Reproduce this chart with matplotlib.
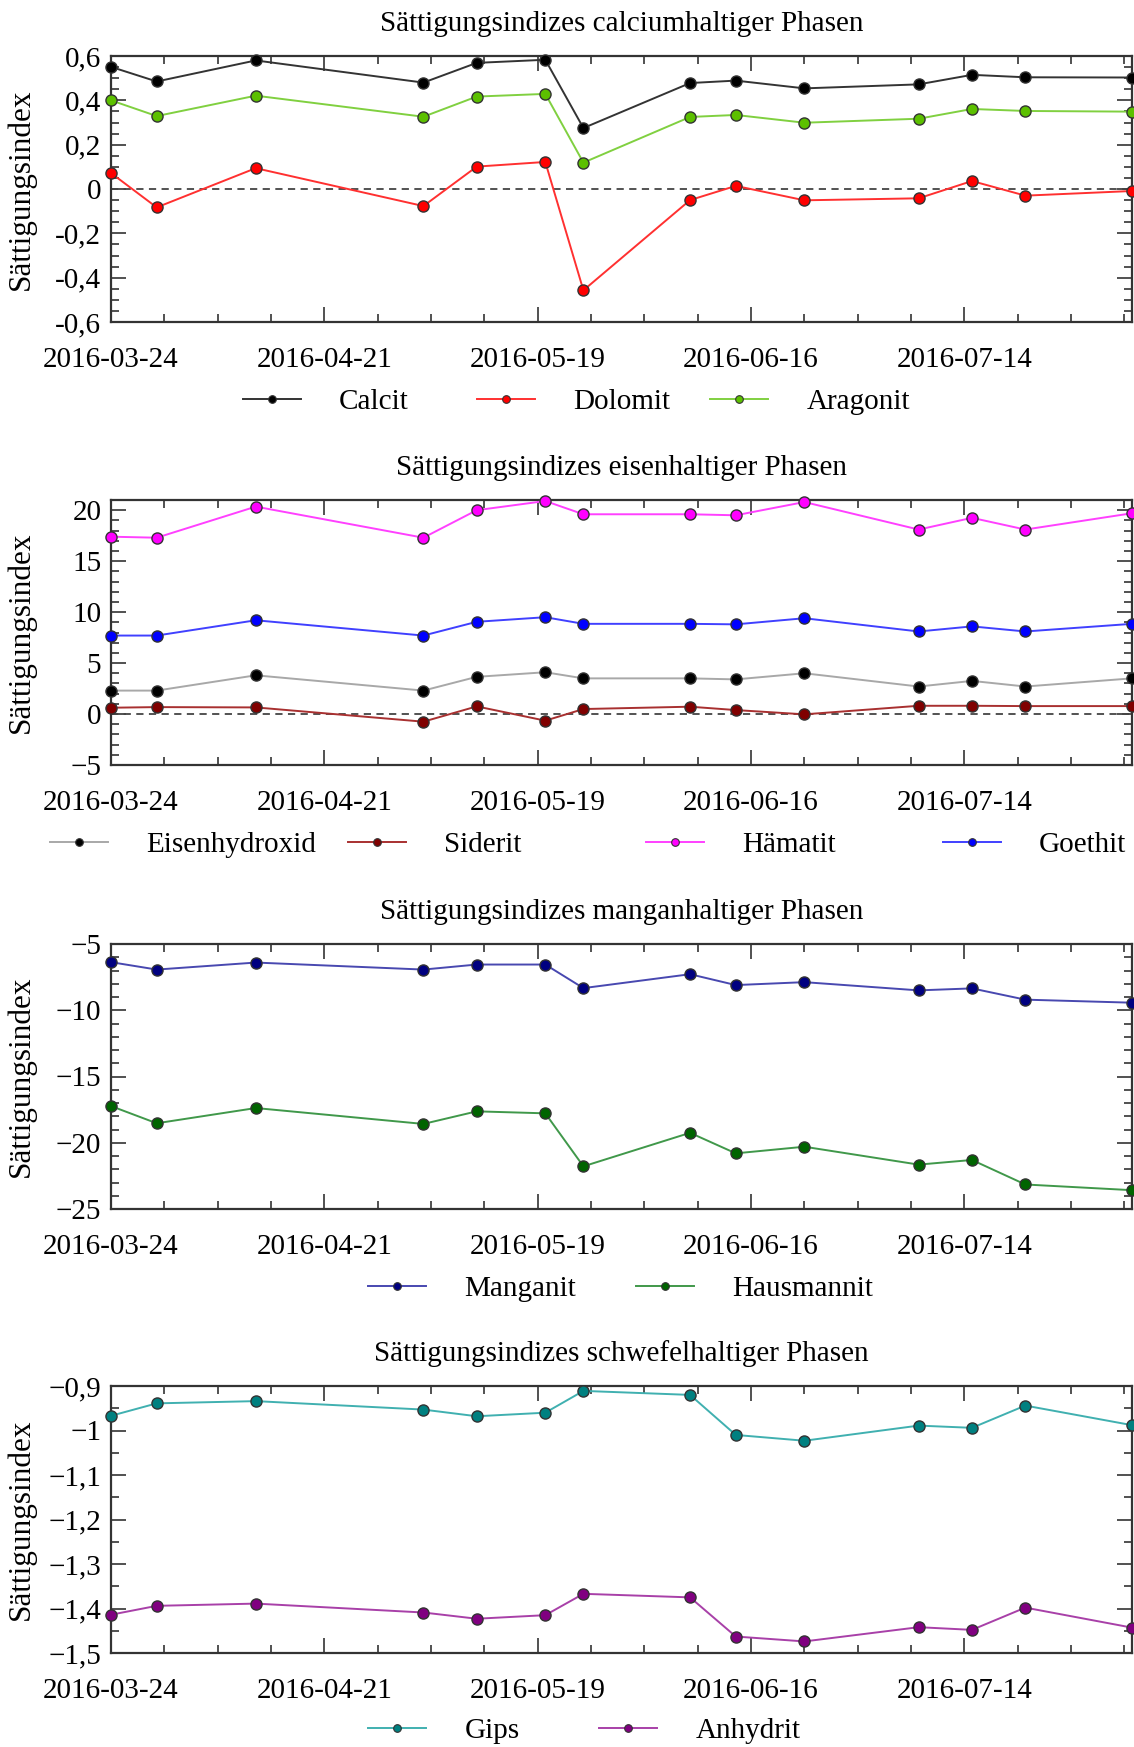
import numpy as np
import matplotlib
matplotlib.use('Agg')
import matplotlib.pyplot as plt
import matplotlib.dates as mdates
from matplotlib.ticker import MultipleLocator, FuncFormatter
from matplotlib.lines import Line2D

plt.rcParams['font.family'] = ['Liberation Serif', 'DejaVu Serif']
plt.rcParams['axes.unicode_minus'] = True

# sampling dates
dates = np.array(['2016-03-24', '2016-03-30', '2016-04-12', '2016-05-04', '2016-05-11',
                  '2016-05-20', '2016-05-25', '2016-06-08', '2016-06-14', '2016-06-23',
                  '2016-07-08', '2016-07-15', '2016-07-22', '2016-08-05'], dtype='datetime64[D]')
tick_dates = np.array(['2016-03-24', '2016-04-21', '2016-05-19', '2016-06-16', '2016-07-14'],
                      dtype='datetime64[D]')

# calcium phases
calcit   = [0.551, 0.485, 0.580, 0.480, 0.569, 0.583, 0.275, 0.478, 0.489, 0.454, 0.472, 0.515, 0.504, 0.503]
dolomit  = [0.072, -0.083, 0.094, -0.077, 0.101, 0.122, -0.457, -0.050, 0.014, -0.051, -0.042, 0.036, -0.030, -0.009]
aragonit = [0.400, 0.329, 0.421, 0.326, 0.417, 0.429, 0.119, 0.325, 0.334, 0.299, 0.317, 0.361, 0.352, 0.349]

# iron phases
eisenhydroxid = [2.3, 2.3, 3.8, 2.3, 3.65, 4.1, 3.5, 3.5, 3.4, 4.0, 2.7, 3.25, 2.7, 3.5]
siderit       = [0.62, 0.68, 0.65, -0.75, 0.75, -0.65, 0.49, 0.72, 0.39, -0.03, 0.81, 0.81, 0.78, 0.78]
haematit      = [17.4, 17.3, 20.35, 17.3, 20.0, 20.9, 19.6, 19.6, 19.5, 20.8, 18.1, 19.25, 18.1, 19.7]
goethit       = [7.7, 7.7, 9.2, 7.7, 9.05, 9.5, 8.85, 8.85, 8.8, 9.4, 8.1, 8.6, 8.1, 8.85]

# manganese phases
manganit   = [-6.37, -6.93, -6.4, -6.93, -6.55, -6.55, -8.33, -7.28, -8.1, -7.88, -8.5, -8.35, -9.2, -9.43]
hausmannit = [-17.23, -18.53, -17.38, -18.58, -17.63, -17.78, -21.78, -19.25, -20.8, -20.3, -21.65, -21.3, -23.15, -23.58]

# sulphur phases
gips     = [-0.967, -0.939, -0.934, -0.953, -0.968, -0.960, -0.911, -0.920, -1.010, -1.023, -0.989, -0.994, -0.944, -0.988]
anhydrit = [-1.414, -1.394, -1.389, -1.409, -1.423, -1.415, -1.367, -1.375, -1.463, -1.474, -1.442, -1.448, -1.398, -1.443]

W, H = 1134, 1747
fig = plt.figure(figsize=(W / 100, H / 100), dpi=100)
FS = 21
EDGE = '#333333'


def fmt_comma(minus):
    def f(v, pos):
        s = '{:g}'.format(round(v, 6)).replace('.', ',')
        if s.startswith('-'):
            s = minus + s[1:]
        return s
    return FuncFormatter(f)


def make_axes(top, bottom):
    return fig.add_axes([111 / W, 1 - bottom / H, (1132 - 111) / W, (bottom - top) / H])


def style(ax, title, ylim, major, minor, minus):
    ax.set_xlim(dates[0], dates[-1])
    ax.set_ylim(*ylim)
    ax.set_xticks(tick_dates)
    ax.set_xticks(np.arange(dates[0], dates[-1] + 1, 7), minor=True)
    ax.xaxis.set_major_formatter(mdates.DateFormatter('%Y-%m-%d'))
    ax.yaxis.set_major_locator(MultipleLocator(major))
    ax.yaxis.set_minor_locator(MultipleLocator(minor))
    ax.yaxis.set_major_formatter(fmt_comma(minus))
    ax.tick_params(which='both', direction='in', top=True, right=True,
                   color=EDGE, width=1.2, labelsize=FS)
    ax.tick_params(which='major', length=11)
    ax.tick_params(which='minor', length=5.5)
    ax.tick_params(axis='x', which='major', pad=18)
    ax.tick_params(axis='y', which='major', pad=7)
    for sp in ax.spines.values():
        sp.set_color(EDGE)
        sp.set_linewidth(1.6)
    ax.set_title(title, fontsize=FS, pad=18)
    ax.set_ylabel('Sättigungsindex', fontsize=22.5)
    ax.yaxis.set_label_coords(-0.074, 0.5)


def series(ax, y, line_c, face_c):
    ax.plot(dates, y, color=line_c, lw=1.4, marker='o', ms=8,
            mfc=face_c, mec=EDGE, mew=1.0, clip_on=False, zorder=3)


def legend_row(entries, x_starts, y_center):
    for (label, line_c, face_c), x in zip(entries, x_starts):
        h = Line2D([], [], color=line_c, lw=1.4, marker='o', ms=5.5,
                   mfc=face_c, mec=EDGE, mew=0.8)
        fig.legend([h], [label], loc='center left',
                   bbox_to_anchor=(x / W, 1 - y_center / H),
                   frameon=False, fontsize=FS, handlelength=2.0,
                   handletextpad=1.3, borderpad=0, borderaxespad=0)


# panel 1
ax1 = make_axes(56, 322)
ax1.axhline(0, color='#444444', lw=1.3, ls=(0, (4, 3)), zorder=2)
series(ax1, calcit, '#333333', '#000000')
series(ax1, dolomit, '#ff3030', '#ff0000')
series(ax1, aragonit, '#80d040', '#5cc000')
style(ax1, 'Sättigungsindizes calciumhaltiger Phasen', (-0.6, 0.6), 0.2, 0.05, '-')
legend_row([('Calcit', '#333333', '#000000'),
            ('Dolomit', '#ff3030', '#ff0000'),
            ('Aragonit', '#80d040', '#5cc000')], [243, 477, 710], 402)

# panel 2
ax2 = make_axes(500, 765)
ax2.axhline(0, color='#444444', lw=1.3, ls=(0, (4, 3)), zorder=2)
series(ax2, eisenhydroxid, '#a8a8a8', '#000000')
series(ax2, siderit, '#a83030', '#800000')
series(ax2, haematit, '#ff40ff', '#ff00ff')
series(ax2, goethit, '#4040ff', '#0000ff')
style(ax2, 'Sättigungsindizes eisenhaltiger Phasen', (-5, 21), 5, 1, '\u2212')
legend_row([('Eisenhydroxid', '#a8a8a8', '#000000'),
            ('Siderit', '#a83030', '#800000'),
            ('Hämatit', '#ff40ff', '#ff00ff'),
            ('Goethit', '#4040ff', '#0000ff')], [50, 348, 646, 943], 845)

# panel 3
ax3 = make_axes(944, 1209)
series(ax3, manganit, '#4848b0', '#000080')
series(ax3, hausmannit, '#40984a', '#006400')
style(ax3, 'Sättigungsindizes manganhaltiger Phasen', (-25, -5), 5, 1, '\u2212')
legend_row([('Manganit', '#4848b0', '#000080'),
            ('Hausmannit', '#40984a', '#006400')], [368, 636], 1289)

# panel 4
ax4 = make_axes(1386, 1653)
series(ax4, gips, '#40b0b0', '#008080')
series(ax4, anhydrit, '#a840a8', '#800080')
style(ax4, 'Sättigungsindizes schwefelhaltiger Phasen', (-1.5, -0.9), 0.1, 0.05, '\u2212')
legend_row([('Gips', '#40b0b0', '#008080'),
            ('Anhydrit', '#a840a8', '#800080')], [368, 599], 1731)

fig.savefig('out.png', dpi=100)
